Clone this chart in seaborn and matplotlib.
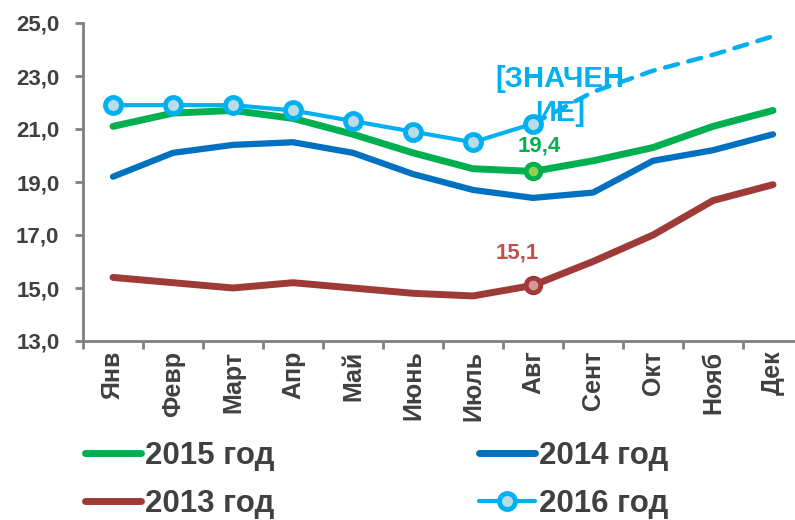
import matplotlib
matplotlib.use("Agg")
import matplotlib.pyplot as plt
import numpy as np
import seaborn as sns
from matplotlib.ticker import FixedLocator, FuncFormatter

# --- data ---
months = ["Янв", "Февр", "Март", "Апр", "Май", "Июнь",
          "Июль", "Авг", "Сент", "Окт", "Нояб", "Дек"]
y2015 = [21.1, 21.6, 21.7, 21.4, 20.8, 20.1, 19.5, 19.4, 19.8, 20.3, 21.1, 21.7]
y2014 = [19.2, 20.1, 20.4, 20.5, 20.1, 19.3, 18.7, 18.4, 18.6, 19.8, 20.2, 20.8]
y2013 = [15.4, 15.2, 15.0, 15.2, 15.0, 14.8, 14.7, 15.1, 16.0, 17.0, 18.3, 18.9]
y2016 = [21.9, 21.9, 21.9, 21.7, 21.3, 20.9, 20.5, 21.2]
y2016_forecast = [21.2, 22.4, 23.2, 23.8, 24.5]  # Авг .. Дек, dashed
label_month = "Авг"
label_2016 = "[ЗНАЧЕН\nИЕ]"

C15, C14, C13, C16 = "#00B050", "#0070C0", "#9E3B37", "#00B0F0"
TXT = "#404040"

sns.set_style("ticks")
plt.rcParams["font.family"] = ["Liberation Sans", "DejaVu Sans"]
plt.rcParams["font.weight"] = "bold"

fig = plt.figure(figsize=(7.95, 5.2), dpi=100)
ax = fig.add_axes([83 / 795, 179 / 520, 720 / 795, 318 / 520])

x = np.arange(len(months))
i_aug = months.index(label_month)
x16 = x[:len(y2016)]
x16f = x[len(y2016) - 1:]

line_kw = dict(ax=ax, solid_capstyle="round", solid_joinstyle="round")
sns.lineplot(x=x, y=y2014, color=C14, lw=4.5, **line_kw)
sns.lineplot(x=x, y=y2015, color=C15, lw=5, **line_kw)
sns.lineplot(x=x, y=y2013, color=C13, lw=5, **line_kw)
sns.lineplot(x=x16f, y=y2016_forecast, color=C16, lw=3.2, ax=ax)
ax.lines[-1].set_linestyle((0, (3, 2.4)))
ax.lines[-1].set_dash_capstyle("round")
sns.lineplot(x=x16, y=y2016, color=C16, lw=3, marker="o", ms=11.5,
             mec=C16, mfc="#B7DEE8", mew=3.5, **line_kw)

# highlighted August points
ax.plot(x[i_aug], y2015[i_aug], "o", ms=10.5, mfc="#92D050", mec=C15, mew=3.5, zorder=5)
ax.plot(x[i_aug], y2013[i_aug], "o", ms=10.5, mfc="#D99694", mec=C13, mew=3.5, zorder=5)

lab_font = dict(fontsize=16, fontweight="bold", ha="center", va="center")
ax.annotate(f"{y2015[i_aug]:.1f}".replace(".", ","), (x[i_aug], y2015[i_aug]),
            xytext=(6, 25), textcoords="offset pixels", color=C15, **lab_font)
ax.annotate(f"{y2013[i_aug]:.1f}".replace(".", ","), (x[i_aug], y2013[i_aug]),
            xytext=(-16, 32), textcoords="offset pixels", color="#C0504D", **lab_font)
ax.annotate(label_2016, (x[i_aug], y2016[-1]), xytext=(27, 28),
            textcoords="offset pixels", color=C16, fontsize=21,
            fontweight="bold", ha="center", va="center", linespacing=1.28)

# axes styling
ax.set_xlim(-0.5, len(months) - 0.5)
ax.set_ylim(13, 25)
ax.set_yticks(np.arange(13, 25.1, 2))
ax.yaxis.set_major_formatter(FuncFormatter(lambda v, p: f"{v:.1f}".replace(".", ",")))
ax.xaxis.set_major_locator(FixedLocator(np.arange(-0.5, len(months), 1)))
ax.xaxis.set_major_formatter(FuncFormatter(lambda v, p: ""))
ax.xaxis.set_minor_locator(FixedLocator(x))
ax.set_xticklabels(months, minor=True, rotation=90, fontsize=18,
                   fontweight="bold", color=TXT, va="top", ha="center")
ax.tick_params(axis="x", which="minor", length=0, pad=7)
ax.tick_params(axis="x", which="major", length=6, width=2, color="#808080")
ax.tick_params(axis="y", length=6, width=2, color="#808080", pad=11,
               labelsize=16, labelcolor=TXT)
for t in ax.get_yticklabels():
    t.set_fontweight("bold")
sns.despine(ax=ax)
for s in ("left", "bottom"):
    ax.spines[s].set_color("#808080")
    ax.spines[s].set_linewidth(2)
ax.set_xlabel("")
ax.set_ylabel("")

# legend (row-major order: 2015, 2014 / 2013, 2016)
h15 = plt.Line2D([], [], color=C15, lw=5, solid_capstyle="round")
h14 = plt.Line2D([], [], color=C14, lw=5, solid_capstyle="round")
h13 = plt.Line2D([], [], color=C13, lw=5, solid_capstyle="round")
h16 = plt.Line2D([], [], color=C16, lw=3, marker="o", ms=11.5, mec=C16,
                 mfc="#B7DEE8", mew=3.5)
leg = fig.legend([h15, h13, h14, h16], ["2015 год", "2013 год", "2014 год", "2016 год"],
                 ncol=2, loc="upper left", bbox_to_anchor=(85 / 795, 1 - 441 / 520),
                 frameon=False, borderpad=0, borderaxespad=0, handlelength=1.8,
                 handletextpad=0.12, columnspacing=6.55, labelspacing=0.58,
                 prop=dict(size=22.5, weight="bold"))
for t in leg.get_texts():
    t.set_color(TXT)

fig.savefig("out.png", dpi=100)
